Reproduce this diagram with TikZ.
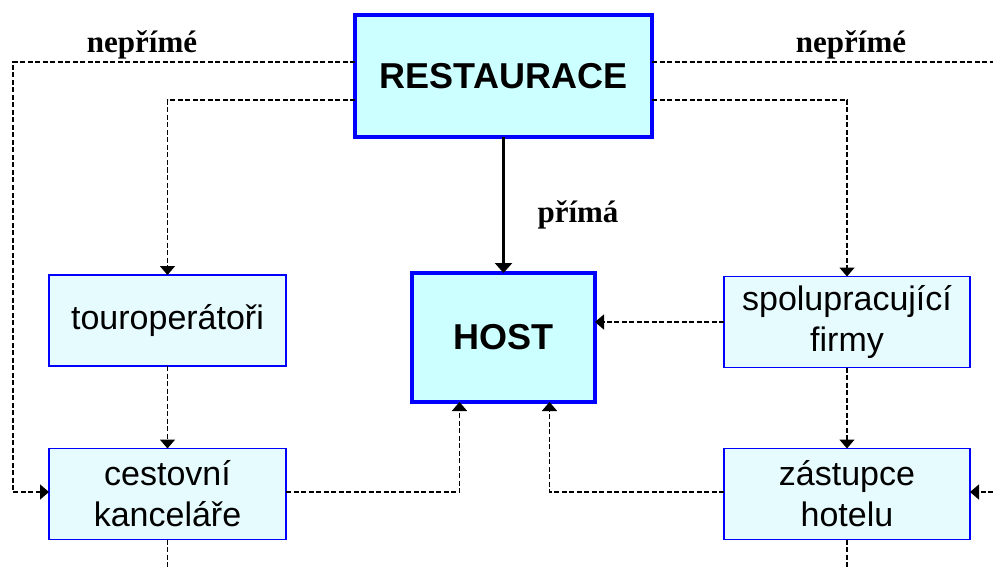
\documentclass[tikz,border=0pt]{standalone}
\usepackage{fontspec}
\setmainfont{Liberation Sans}
\newfontfamily\tnr{Liberation Serif}
\usetikzlibrary{arrows.meta}
\definecolor{bigfill}{HTML}{CCFFFF}
\definecolor{smallfill}{HTML}{E6FBFE}
\definecolor{edgeblue}{RGB}{0,0,255}
\begin{document}
\begin{tikzpicture}[x=1pt,y=-1pt,
  bigbox/.style={draw=edgeblue,line width=4pt,fill=bigfill,inner sep=0pt,outer sep=0pt,
    font=\fontsize{36}{40}\selectfont\bfseries},
  smallbox/.style={draw=edgeblue,line width=1.6pt,fill=smallfill,inner sep=0pt,outer sep=0pt,
    minimum width=237pt,minimum height=91pt,align=center,
    font=\fontsize{34}{41}\selectfont},
  dasharrow/.style={draw=black,line width=1.6pt,dash pattern=on 5pt off 2.5pt,
    -{Triangle[length=9pt,width=15pt]}},
  dashline/.style={draw=black,line width=1.6pt,dash pattern=on 5pt off 2.5pt},
  solidarrow/.style={draw=black,line width=3.5pt,-{Triangle[length=10pt,width=17pt]}},
  lbl/.style={font=\fontsize{31}{34}\selectfont\tnr\bfseries,inner sep=0pt,anchor=base}
]
\useasboundingbox (0,0) rectangle (993,567);

\node[bigbox,minimum width=297pt,minimum height=122pt] (R) at (503.5,76) {RESTAURACE};
\node[bigbox,minimum width=183pt,minimum height=129pt] (H) at (503.5,337.5) {HOST};
\node[smallbox] (tour) at (167.5,320.5) {touroperátoři};
\node[smallbox] (cest) at (167.5,494) {cestovní\\kanceláře};
\node[smallbox,minimum width=246pt] (spol) at (847,322) {spolupracující\\firmy};
\node[smallbox,minimum width=246pt] (zast) at (847,494) {zástupce\\hotelu};

\coordinate (L) at (13,62);
\coordinate (Rend) at (993,62);
\coordinate (Rin) at (993,492);
\coordinate (cb) at (167.5,567);
\coordinate (zb) at (847,567);

\node[lbl] (n1) at (142,53) {nepřímé};
\node[lbl] (n2) at (851,53) {nepřímé};
\node[lbl] (p) at (578,222) {přímá};

\draw[solidarrow] (R) -- (H);
\draw[dasharrow] ([yshift=14pt]R.west) -- (L) |- ([yshift=2pt]cest.west);
\draw[dasharrow] ([yshift=-24pt]R.west) -| (tour.north);
\draw[dashline] ([yshift=14pt]R.east) -- (Rend);
\draw[dasharrow] ([yshift=-24pt]R.east) -| (spol.north);
\draw[dasharrow] (tour.south) -- (cest.north);
\draw[dasharrow] (spol.south) -- (zast.north);
\draw[dasharrow] (spol.west) -- (spol.west -| H.east);
\draw[dasharrow] ([yshift=2pt]cest.east) -| ([xshift=-44pt]H.south);
\draw[dasharrow] ([yshift=2pt]zast.west) -| ([xshift=46pt]H.south);
\draw[dasharrow] (Rin) -- (Rin -| zast.east);
\draw[dashline] (cest.south) -- (cb);
\draw[dashline] (zast.south) -- (zb);
\end{tikzpicture}
\end{document}
